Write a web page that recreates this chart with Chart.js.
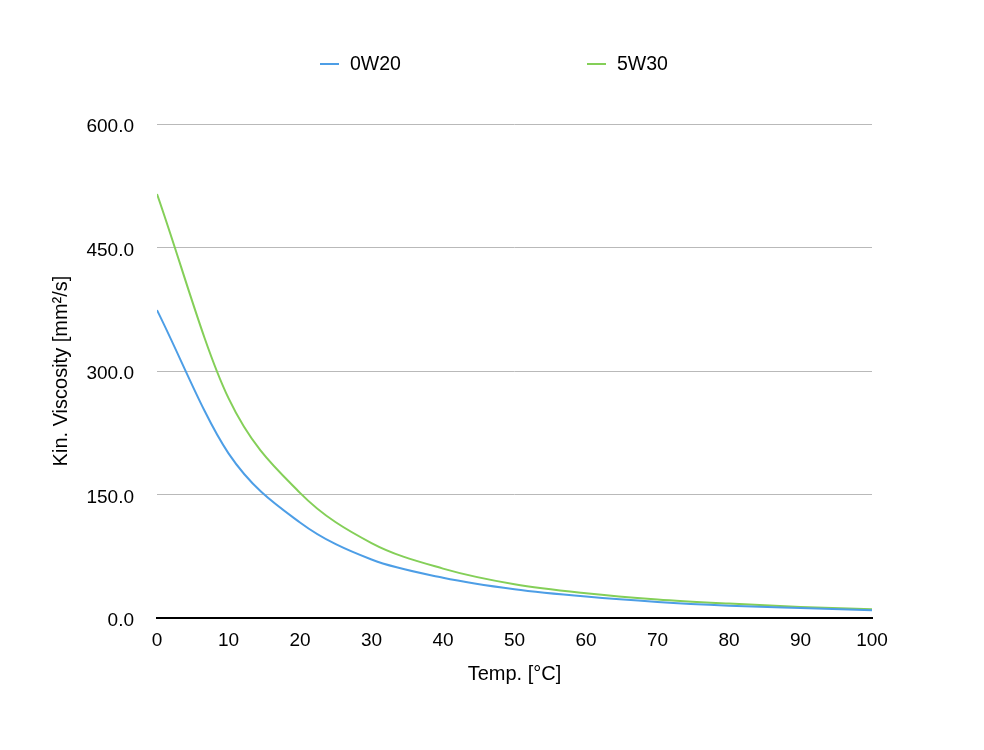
<!DOCTYPE html>
<html>
<head>
<meta charset="utf-8">
<script src="https://cdn.jsdelivr.net/npm/chart.js@4.4.1/dist/chart.umd.min.js"></script>
<style>
  html, body { margin: 0; padding: 0; background: #fff; }
  #wrap { position: relative; width: 984px; height: 750px; }
  #legend { position: absolute; top: 50px; left: 0; width: 984px; height: 26px;
            font-family: "Liberation Sans", Arial, Helvetica, sans-serif; font-size: 19.5px; color: #000; }
  .item { position: absolute; top: 0; line-height: 26px; white-space: nowrap; }
  .swatch { display: inline-block; width: 19px; height: 2px; vertical-align: middle; margin-right: 11px; position: relative; top: -1px; }
</style>
</head>
<body>
<div id="wrap">
  <canvas id="viscChart" width="984" height="750"></canvas>
  <div id="legend"></div>
</div>
<script>
// temperatures in °C
const temps = [0, 10, 20, 30, 40, 50, 60, 70, 80, 90, 100];
// kinematic viscosity in mm²/s
const visc0W20 = [374, 200, 116, 71, 49, 35, 26, 19.5, 15, 12, 9.3];
const visc5W30 = [515, 267, 152, 91, 60, 41, 30, 22.5, 17.5, 13.5, 10.7];
const seriesNames = ['0W20', '5W30'];
const yTicks = [0, 150, 300, 450, 600];

const colors = ['#4d9ee6', '#84cf58'];
const legendLeft = [320, 587];

document.addEventListener("DOMContentLoaded", function () {
    const fontFamily = '"Liberation Sans", Arial, Helvetica, sans-serif';
    const tickFont = { family: fontFamily, size: 19 };
    const titleFont = { family: fontFamily, size: 20 };
    const toPoints = vals => temps.map((t, i) => ({ x: t, y: vals[i] }));

    const ctx = document.getElementById('viscChart').getContext('2d');
    const chart = new Chart(ctx, {
        type: 'line',
        data: {
            datasets: [
                { label: seriesNames[0], data: toPoints(visc0W20), borderColor: colors[0] },
                { label: seriesNames[1], data: toPoints(visc5W30), borderColor: colors[1] }
            ]
        },
        options: {
            responsive: false,
            animation: false,
            layout: { padding: { top: 124, right: 112, bottom: 56, left: 40 } },
            elements: {
                line: { borderWidth: 2, cubicInterpolationMode: 'monotone', fill: false },
                point: { radius: 0 }
            },
            plugins: {
                legend: { display: false },
                tooltip: { enabled: false }
            },
            scales: {
                x: {
                    type: 'linear',
                    min: 0,
                    max: 100,
                    ticks: { stepSize: 10, color: '#000', font: tickFont, padding: 11, maxRotation: 0 },
                    grid: { display: false, drawTicks: false },
                    border: { display: true, color: '#000', width: 2 },
                    title: { display: true, text: 'Temp. [°C]', color: '#000', font: titleFont, padding: { top: 4, bottom: 8 } },
                    afterFit: function (scale) { scale.height = 76; }
                },
                y: {
                    min: 0,
                    max: 600,
                    afterBuildTicks: function (scale) { scale.ticks = yTicks.map(v => ({ value: v })); },
                    ticks: {
                        color: '#000', font: tickFont, padding: 23, labelOffset: 3,
                        callback: v => v.toFixed(1)
                    },
                    grid: { color: '#b9b9b9', lineWidth: 1, drawTicks: false },
                    border: { display: false },
                    title: { display: true, text: 'Kin. Viscosity [mm²/s]', color: '#000', font: titleFont, padding: { top: 9, bottom: 0 } },
                    afterFit: function (scale) { scale.width = 117; }
                }
            }
        }
    });

    // Legend as plain html, spaced like the original
    const legend = document.getElementById('legend');
    chart.data.datasets.forEach((ds, i) => {
        const item = document.createElement('div');
        item.className = 'item';
        item.style.left = legendLeft[i] + 'px';
        item.innerHTML = '<span class="swatch" style="background:' + ds.borderColor + '"></span>' + ds.label;
        legend.appendChild(item);
    });
});
</script>
</body>
</html>
